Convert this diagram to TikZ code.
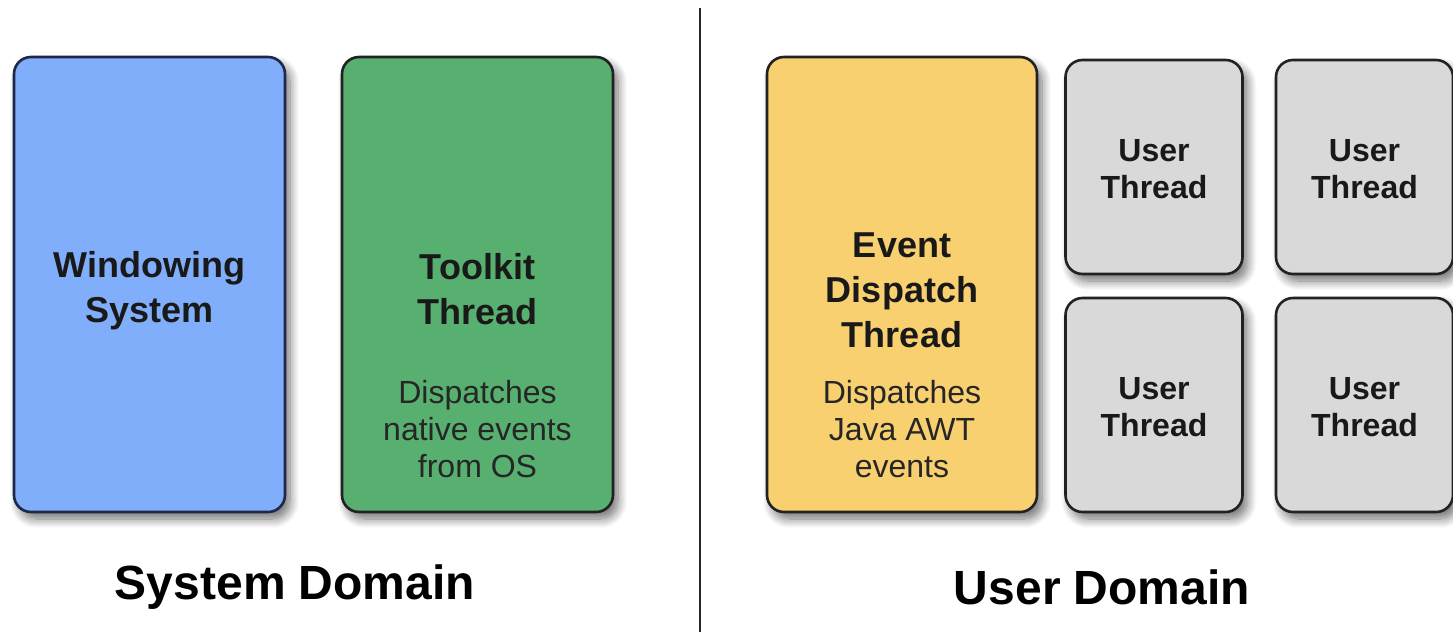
\documentclass[tikz,border=0pt]{standalone}
\usepackage{fontspec}
\setmainfont{Liberation Sans}
\usetikzlibrary{shadows.blur}

\definecolor{winblue}{RGB}{128,174,250}
\definecolor{kitgreen}{RGB}{88,176,112}
\definecolor{edtyellow}{RGB}{248,208,112}
\definecolor{usergray}{RGB}{217,217,217}
\definecolor{rim}{RGB}{34,34,34}
\definecolor{navyrim}{RGB}{30,40,72}

\tikzset{
  panel/.style={draw=rim, line width=2.6pt, rounded corners=17pt,
    blur shadow={shadow xshift=5pt, shadow yshift=-7pt, shadow blur radius=9pt,
      shadow blur steps=10, shadow opacity=55}},
  bigpanel/.style={panel, minimum width=271pt, minimum height=455pt},
  smallpanel/.style={panel, fill=usergray, minimum width=177pt, minimum height=214pt},
  title/.style={align=center, text=black!90, font={\fontsize{36}{45}\selectfont\bfseries}},
  smalltitle/.style={title, font={\fontsize{32}{37}\selectfont\bfseries}},
  desc/.style={align=center, text=black!85, font={\fontsize{32}{37}\selectfont}},
  domainlabel/.style={font={\fontsize{48}{56}\selectfont\bfseries}}
}

\begin{document}
\begin{tikzpicture}[x=1pt,y=-1pt]
\useasboundingbox (0,0) rectangle (1453,632);

\coordinate (divtop) at (700,8);
\coordinate (divbot) at (700,632);
\draw[line width=2pt, black!85] (divtop) -- (divbot);

% system domain
\node[bigpanel, fill=winblue, draw=navyrim] (win) at (149.5,284.5) {};
\node[title] (wintxt) at ([yshift=-6pt]win.center) {Windowing\\System};
\node[bigpanel, fill=kitgreen] (kit) at (477.5,284.5) {};
\node[title] (kittxt) at ([yshift=-5pt]kit.center) {Toolkit\\Thread};
\node[desc] (kitdesc) at ([yshift=-145pt]kit.center) {Dispatches\\native events\\from OS};

% user domain
\node[bigpanel, fill=edtyellow, minimum width=270pt] (edt) at (902,284.5) {};
\node[title] (edttxt) at ([yshift=-6pt]edt.center) {Event\\Dispatch\\Thread};
\node[desc] (edtdesc) at ([yshift=-145pt]edt.center) {Dispatches\\Java AWT\\events};

\node[smallpanel] (uA) at (1154,167) {};
\node[smallpanel] (uB) at (1364.5,167) {};
\node[smallpanel] (uC) at (1154,405) {};
\node[smallpanel] (uD) at (1364.5,405) {};
\foreach \u in {uA,uB,uC,uD}
  \node[smalltitle] (\u txt) at ([yshift=-2pt]\u.center) {User\\Thread};

\node[domainlabel] (sysdom) at (295,587) {System Domain};
\node[domainlabel] (usrdom) at (1102,587) {User Domain};
\end{tikzpicture}
\end{document}
